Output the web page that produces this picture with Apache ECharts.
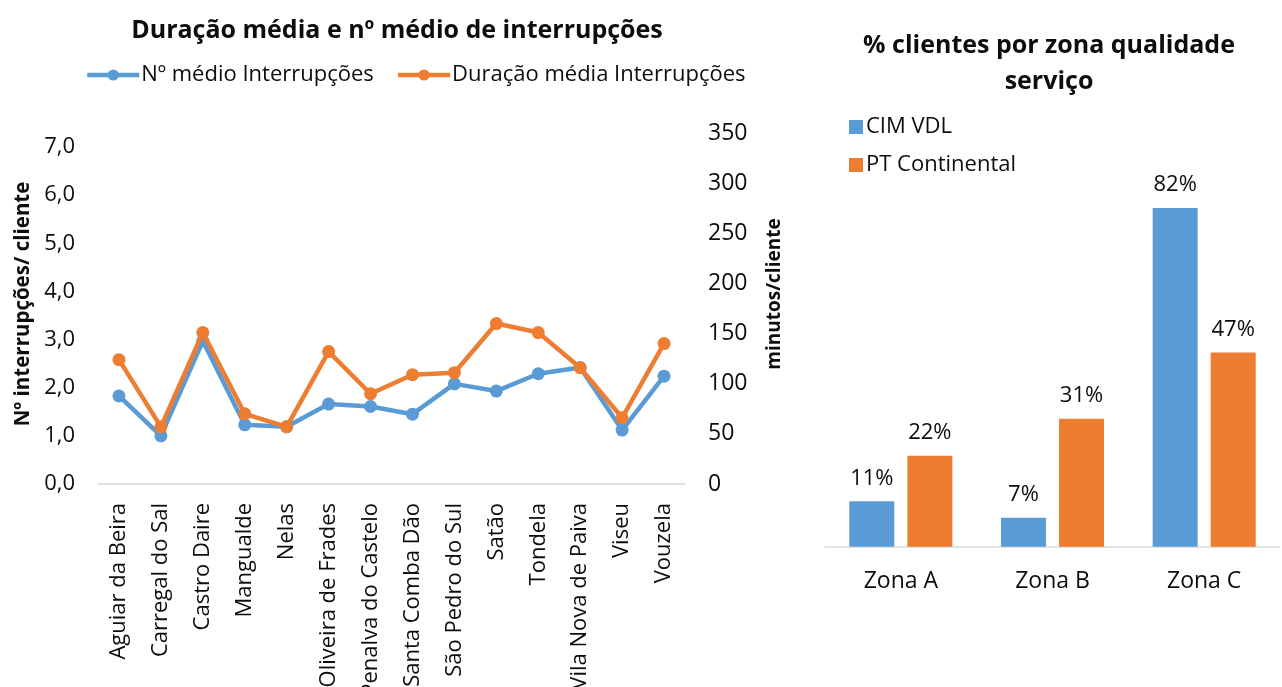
<!DOCTYPE html>
<html>
<head>
<meta charset="utf-8">
<script src="https://cdn.jsdelivr.net/npm/echarts@6/dist/echarts.min.js"></script>
<style>
  html, body { margin: 0; padding: 0; background: #fff; }
  #chart { width: 1282px; height: 687px; }
</style>
</head>
<body>
<div id="chart"></div>
<script>
// Municípios da CIM Viseu Dão Lafões
const municipios = [
  'Aguiar da Beira', 'Carregal do Sal', 'Castro Daire', 'Mangualde', 'Nelas',
  'Oliveira de Frades', 'Penalva do Castelo', 'Santa Comba Dão', 'São Pedro do Sul',
  'Satão', 'Tondela', 'Vila Nova de Paiva', 'Viseu', 'Vouzela'
];
// Nº médio de interrupções por cliente
const nMedioInterrupcoes = [1.83, 1.00, 2.97, 1.23, 1.19, 1.66, 1.61, 1.45, 2.08, 1.93, 2.29, 2.42, 1.12, 2.24];
// Duração média das interrupções (minutos/cliente)
const duracaoMedia = [124, 57, 151, 70, 57, 132, 90, 109, 111, 160, 151, 116, 66, 140];

// % de clientes por zona de qualidade de serviço
const zonas = ['Zona A', 'Zona B', 'Zona C'];
const cimVdl = [11, 7, 82];
const ptContinental = [22, 31, 47];

const BLUE = '#5b9bd5';
const ORANGE = '#ed7d31';
const TXT = '#0d0d0d';
const FONT = 'Open Sans';

const chart = echarts.init(document.getElementById('chart'), null, { renderer: 'canvas' });

const lineGrid = { left: 98, width: 587 };

chart.setOption({
  animation: false,
  textStyle: { fontFamily: FONT, color: TXT },
  title: [
    {
      text: 'Duração média e nº médio de interrupções',
      left: 392, top: 13, textAlign: 'center',
      textStyle: { fontFamily: FONT, fontSize: 25, fontWeight: 'bold', color: TXT }
    },
    {
      text: '% clientes por zona qualidade\nserviço',
      left: 1044, top: 23, textAlign: 'center',
      textStyle: { fontFamily: FONT, fontSize: 25, fontWeight: 'bold', color: TXT, lineHeight: 36 }
    }
  ],
  legend: [
    {
      data: ['Nº médio Interrupções', 'Duração média Interrupções'],
      left: 85, top: 64, padding: 0,
      itemWidth: 52, itemHeight: 14, itemGap: 22,
      lineStyle: { width: 4.5 },
      textStyle: { fontFamily: FONT, fontSize: 22, color: TXT, padding: [0, 0, 0, -3] }
    },
    {
      data: ['CIM VDL', 'PT Continental'],
      orient: 'vertical',
      left: 849, top: 116, padding: 0,
      icon: 'rect', itemWidth: 14, itemHeight: 14, itemGap: 16,
      textStyle: { fontFamily: FONT, fontSize: 22, color: TXT, padding: [0, 0, 0, -2] }
    }
  ],
  grid: [
    { left: lineGrid.left, width: lineGrid.width, top: 147, bottom: 203, outerBoundsMode: 'none' },
    { left: lineGrid.left, width: lineGrid.width, top: 133, bottom: 203, outerBoundsMode: 'none' },
    { left: 825, width: 455, top: 133.7, bottom: 140.3, outerBoundsMode: 'none' }
  ],
  xAxis: [
    {
      gridIndex: 0, type: 'category', data: municipios, boundaryGap: true,
      axisLine: { lineStyle: { color: '#d9d9d9', width: 1.5 } },
      axisTick: { show: false },
      axisLabel: { rotate: 90, interval: 0, margin: 19, fontSize: 22, color: TXT, fontFamily: FONT, hideOverlap: false }
    },
    {
      gridIndex: 1, type: 'category', data: municipios, boundaryGap: true, show: false
    },
    {
      gridIndex: 2, type: 'category', data: zonas,
      axisLine: { lineStyle: { color: '#d9d9d9', width: 1.5 } },
      axisTick: { show: false },
      axisLabel: { margin: 23, fontSize: 23, color: TXT, fontFamily: FONT }
    }
  ],
  yAxis: [
    {
      gridIndex: 0, type: 'value', min: 0, max: 7, interval: 1, position: 'left',
      axisLine: { show: false }, axisTick: { show: false }, splitLine: { show: false },
      axisLabel: {
        margin: 23, fontSize: 22, color: TXT, fontFamily: FONT,
        formatter: v => v.toFixed(1).replace('.', ',')
      }
    },
    {
      gridIndex: 1, type: 'value', min: 0, max: 350, interval: 50, position: 'right',
      axisLine: { show: false }, axisTick: { show: false }, splitLine: { show: false },
      axisLabel: { margin: 23, fontSize: 23, color: TXT, fontFamily: FONT }
    },
    {
      gridIndex: 2, type: 'value', min: 0, max: 100, show: false
    }
  ],
  graphic: [
    {
      type: 'text', x: 23, y: 304, rotation: Math.PI / 2,
      style: {
        text: 'Nº interrupções/ cliente', fill: TXT,
        font: 'bold 20.5px "' + FONT + '"', align: 'center', verticalAlign: 'middle'
      }
    },
    {
      type: 'text', x: 775, y: 294, rotation: Math.PI / 2,
      style: {
        text: 'minutos/cliente', fill: TXT,
        font: 'bold 19px "' + FONT + '"', align: 'center', verticalAlign: 'middle'
      }
    }
  ],
  series: [
    {
      name: 'Nº médio Interrupções', type: 'line',
      xAxisIndex: 0, yAxisIndex: 0, data: nMedioInterrupcoes,
      symbol: 'circle', symbolSize: 13,
      itemStyle: { color: BLUE },
      lineStyle: { color: BLUE, width: 4.5 },
      z: 2
    },
    {
      name: 'Duração média Interrupções', type: 'line',
      xAxisIndex: 1, yAxisIndex: 1, data: duracaoMedia,
      symbol: 'circle', symbolSize: 13,
      itemStyle: { color: ORANGE },
      lineStyle: { color: ORANGE, width: 4.5 },
      z: 3
    },
    {
      name: 'CIM VDL', type: 'bar',
      xAxisIndex: 2, yAxisIndex: 2, data: cimVdl,
      barWidth: 45, barGap: '29%',
      itemStyle: { color: BLUE },
      label: {
        show: true, position: 'top', distance: 12, formatter: '{c}%',
        fontSize: 22, color: TXT, fontFamily: FONT
      }
    },
    {
      name: 'PT Continental', type: 'bar',
      xAxisIndex: 2, yAxisIndex: 2, data: ptContinental,
      barWidth: 45, barGap: '29%',
      itemStyle: { color: ORANGE },
      label: {
        show: true, position: 'top', distance: 12, formatter: '{c}%',
        fontSize: 22, color: TXT, fontFamily: FONT
      }
    }
  ]
});
</script>
</body>
</html>
